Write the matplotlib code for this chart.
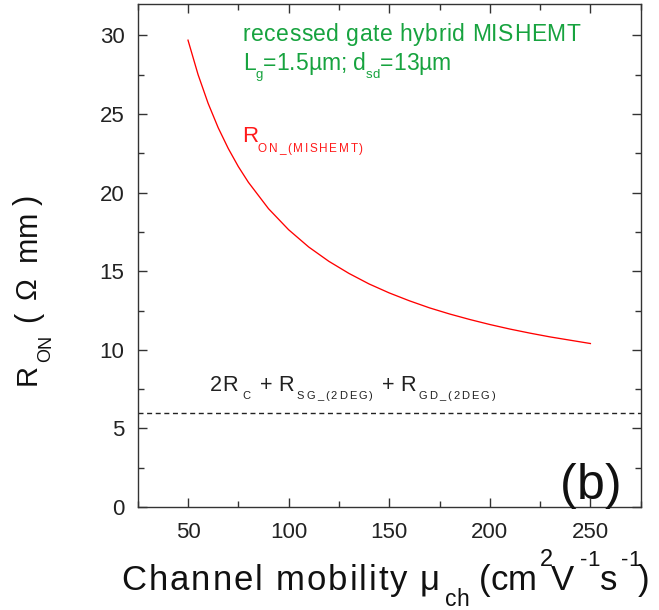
import numpy as np
import matplotlib
matplotlib.use("Agg")
import matplotlib.pyplot as plt
from matplotlib.ticker import MultipleLocator
from matplotlib.transforms import IdentityTransform
from matplotlib.font_manager import FontProperties, findfont
from matplotlib.ft2font import FT2Font
try:
    from matplotlib.ft2font import LoadFlags
    NOHINT = LoadFlags.NO_HINTING
except Exception:
    from matplotlib.ft2font import LOAD_NO_HINTING as NOHINT

# ---------------- data ----------------
mobility = [50, 55, 60, 65, 70, 75, 80, 90, 100, 110, 120, 130, 140, 150,
            160, 170, 180, 190, 200, 210, 220, 230, 240, 250]
r_on_mishemt = [29.70, 27.51, 25.68, 24.13, 22.81, 21.66, 20.66, 18.98,
                17.64, 16.54, 15.63, 14.86, 14.19, 13.62, 13.12, 12.67,
                12.28, 11.93, 11.61, 11.32, 11.06, 10.82, 10.61, 10.40]
r_access = 6.0
xticks = [50, 100, 150, 200, 250]
yticks = [0, 5, 10, 15, 20, 25, 30]

# ---------------- figure ----------------
W, H, DPI = 659, 610, 100
FONT = "Liberation Sans"
plt.rcParams["font.family"] = [FONT, "DejaVu Sans"]

fig = plt.figure(figsize=(W / DPI, H / DPI), dpi=DPI)
L, R, T, B = 137.7, 640.7, 4.0, 507.0
ax = fig.add_axes([L / W, (H - B) / H, (R - L) / W, (B - T) / H])

ax.plot(mobility, r_on_mishemt, color="#ff0000", lw=0.95)
ax.axhline(r_access, color="#222222", lw=1.0, dashes=(3.6, 2.6))

ax.set_xlim(25, 275)
ax.set_ylim(0, 32)
ax.set_xticks(xticks)
ax.set_yticks(yticks)
ax.xaxis.set_minor_locator(MultipleLocator(25))
ax.yaxis.set_minor_locator(MultipleLocator(2.5))
ax.tick_params(which="both", direction="in", top=True, right=True,
               color="#333333", width=1.0)
ax.tick_params(which="major", length=6.5, labelsize=16, labelcolor="#222222")
ax.tick_params(which="minor", length=4)
ax.tick_params(axis="x", which="major", pad=10.5)
ax.tick_params(axis="y", which="major", pad=9.5)
for s in ax.spines.values():
    s.set_color("#333333")
    s.set_linewidth(1.0)

# ---------------- rich text helper (pixel placement) ----------------
_ft = FT2Font(findfont(FontProperties(family=FONT)))


def _adv(ch, size):
    _ft.set_size(size, DPI)
    g = _ft.load_char(ord(ch), flags=NOHINT)
    return g.linearHoriAdvance / 65536.0


def rich(x0, ytop, pieces, color, rot=0):
    """pieces: (text, size_pt, baseline_shift_px[, start_px[, end_px]])"""
    th = np.deg2rad(rot)
    u = (np.cos(th), np.sin(th))
    n = (-np.sin(th), np.cos(th))
    y0 = H - ytop
    s = 0.0
    for p in pieces:
        text, size, dy = p[:3]
        start = p[3] if len(p) > 3 and p[3] is not None else s
        end = p[4] if len(p) > 4 else None
        advs = [_adv(c, size) for c in text]
        nat = sum(advs) - 0.08 * advs[-1]
        track = 0.0
        if end is not None and len(text) > 1:
            track = (end - start - nat) / (len(text) - 1)
        s = start
        for c, a in zip(text, advs):
            if c != " ":
                fig.text(x0 + s * u[0] + dy * n[0], y0 + s * u[1] + dy * n[1],
                         c, transform=IdentityTransform(), fontsize=size,
                         color=color, rotation=rot, rotation_mode="anchor",
                         ha="left", va="baseline", family=[FONT, "DejaVu Sans"])
            s += a + track


GREEN = "#17a33f"
RED = "#ff1a1a"

rich(243, 40.7, [("recessed gate hybrid MISHEMT", 16.5, 0, 0, 336)], GREEN)
rich(243, 70.0, [("L", 16.5, 0), ("g", 9.5, -8), ("=1.5\u00b5m; d", 16.5, 0),
                 ("sd", 9.5, -8), ("=13\u00b5m", 16.5, 0)], GREEN)
rich(241.7, 141.7, [("R", 16, 0), ("ON_(MISHEMT)", 8.5, -10, 16.3, 121.3)], RED)
rich(210, 390.7, [("2R", 15.6, 0, 0), ("C", 8, -8.7, 32.7), ("+", 15.6, 0, 50),
                  ("R", 15.6, 0, 68.3), ("SG_(2DEG)", 8, -8.7, 86.7, 162.7),
                  ("+", 15.6, 0, 171.7), ("R", 15.6, 0, 190),
                  ("GD_(2DEG)", 8, -8.7, 208.3, 285)], "#222222")
rich(560, 499.3, [("(b)", 36, 0)], "#111111")

# axis labels
rich(36, 385, [("R", 21, 0, 0), ("ON", 13, -14, 23),
               ("(", 22, 0, 63), ("\u03a9", 21, 0, 86),
               ("mm", 22, 0, 124), (")", 22, 0, 180)],
     "#111111", rot=90)
rich(121.7, 590, [("Channel mobility", 25, 0, 0, 284), ("\u03bc", 25, 0, 298),
                  ("ch", 16.5, -15.5, 323.3), ("(cm", 25, 0, 357.5),
                  ("2", 17, 24, 418.3), ("V", 25, 0, 429.5),
                  ("-1", 16, 24, 458.3), ("s", 25, 0, 478.3),
                  ("-1", 16, 24, 499.5), (")", 25, 0, 516)], "#111111")

fig.savefig("out.png", dpi=DPI)
